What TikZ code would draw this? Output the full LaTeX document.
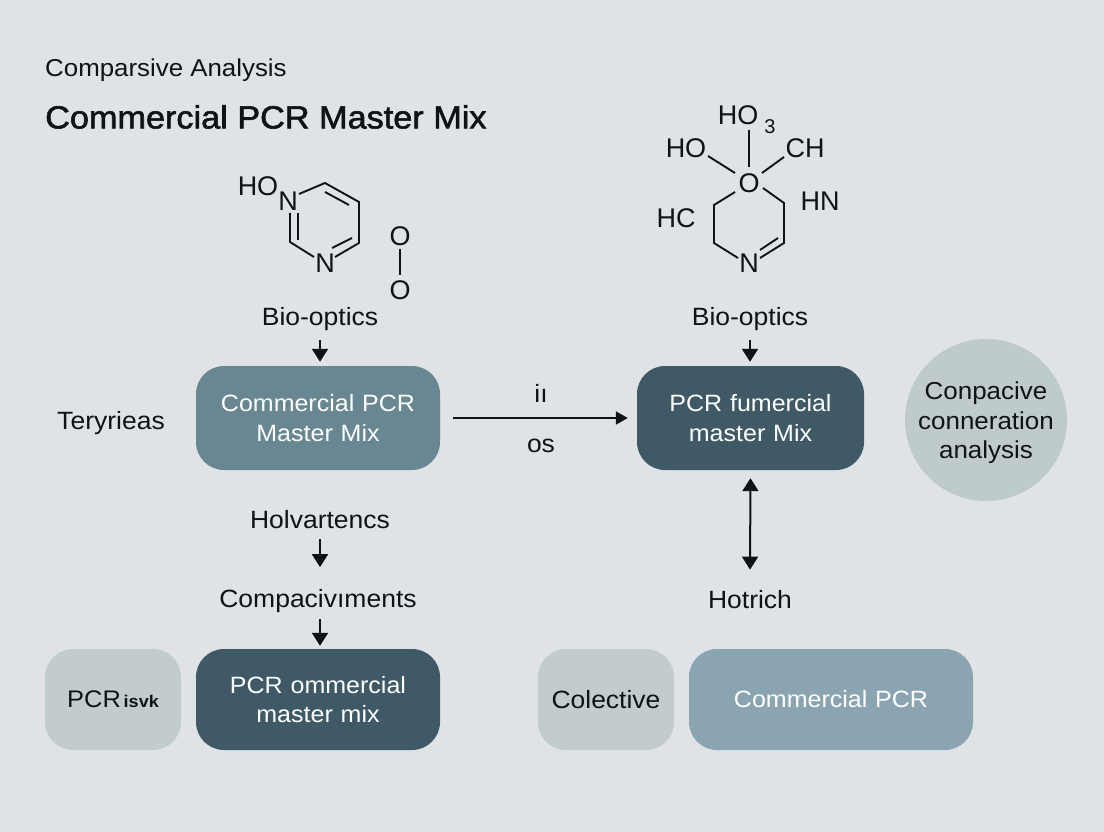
\documentclass[tikz,border=0pt]{standalone}
\usepackage{fontspec}
\setmainfont[FakeStretch=1.06]{Liberation Sans}
\newfontfamily\atomf{Liberation Sans}
\newfontfamily\ttlf[FakeBold=1.8,FakeStretch=1.07]{Liberation Sans}
\usetikzlibrary{arrows.meta}
\definecolor{bgc}{HTML}{DFE3E5}
\definecolor{ink}{HTML}{101316}
\definecolor{darkbox}{HTML}{3F5A66}
\definecolor{midbox}{HTML}{688792}
\definecolor{lightbox}{HTML}{8BA4B1}
\definecolor{palebox}{HTML}{C2CCCF}
\definecolor{circ}{HTML}{BFCACD}
\tikzset{
  x=1pt,y=-1pt,
  lbl/.style={font=\fontsize{25}{28}\selectfont,text=ink,inner sep=0pt,align=center},
  boxtxt/.style={font=\fontsize{23.6}{29.5}\selectfont,align=center,inner sep=0pt},
  circtxt/.style={font=\fontsize{24.5}{29.5}\selectfont,align=center,inner sep=0pt},
  atom/.style={font=\atomf\fontsize{27}{30}\selectfont,text=ink,inner sep=0pt},
  bond/.style={draw=ink,line width=1.9pt},
  arr/.style={draw=ink,line width=2pt,-{Triangle[length=13pt,width=16pt]}},
  arrm/.style={draw=ink,line width=2pt,-{Triangle[length=12pt,width=13pt]}},
  arrb/.style={draw=ink,line width=2pt,{Triangle[length=13pt,width=16pt]}-{Triangle[length=13pt,width=16pt]}},
  rbox/.style={rounded corners=28pt,inner sep=0pt},
}
\begin{document}
\begin{tikzpicture}
\useasboundingbox (0,0) rectangle (1104,832);
\fill[bgc] (0,0) rectangle (1104,832);
% titles
\node[lbl,anchor=west,font=\fontsize{24.4}{28}\selectfont] (sub) at (45,70) {Comparsive Analysis};
\node[lbl,anchor=west,font=\ttlf\fontsize{32}{36}\selectfont] (ttl) at (45,117) {Commercial PCR Master Mix};
% boxes
\node[rbox,fill=midbox,text=white,boxtxt,minimum width=244pt,minimum height=104pt,text width=244pt] (b1) at (318,418) {Commercial PCR\\Master Mix};
\node[rbox,fill=darkbox,text=white,boxtxt,minimum width=227pt,minimum height=104pt,text width=227pt] (b2) at (750.5,418) {PCR fumercial\\master Mix};
\node[rbox,fill=darkbox,text=white,boxtxt,minimum width=244pt,minimum height=101pt,text width=244pt] (b3) at (318,699.5) {PCR ommercial\\master mix};
\node[rbox,fill=palebox,text=ink,lbl,minimum width=136pt,minimum height=101pt,text width=136pt] (b4) at (113,699.5) {\fontsize{24}{28}\selectfont PCR{\fontsize{17}{22}\selectfont\bfseries\,isvk}};
\node[rbox,fill=palebox,text=ink,lbl,minimum width=136pt,minimum height=101pt,text width=136pt] (b5) at (606,699.5) {Colective};
\node[rbox,fill=lightbox,text=white,boxtxt,minimum width=284pt,minimum height=101pt,text width=284pt] (b6) at (831,699.5) {Commercial PCR};
\node[circle,fill=circ,minimum size=162pt,inner sep=0pt] (c1) at (986,420) {};
\node[text=ink,circtxt] (c1t) at (986,423) {Conpacive\\conneration\\analysis};
% labels
\node[lbl] (bio1) at (320,319) {Bio-optics};
\node[lbl] (bio2) at (750,319) {Bio-optics};
\node[lbl] (ter) at (111,423) {Teryrieas};
\node[lbl] (hol) at (320,520) {Holvartencs};
\node[lbl] (cmp) at (318,601) {Compacivıments};
\node[lbl] (hot) at (750,600) {Hotrich};
\node[lbl] (ii) at (541,393) {iı};
\node[lbl] (os) at (541,446) {os};
% connectors
\coordinate (start) at (453,418);
\draw[arrm] (start) -- ([xshift=-9pt]b2.west);
\draw[arr] ([yshift=-9pt]bio1.south) -- ([yshift=4pt]bio1.south |- b1.north);
\draw[arr] ([yshift=-9pt]bio2.south) -- ([yshift=4pt]bio2.south |- b2.north);
\draw[arrb] ([yshift=-8pt]b2.south) -- ([yshift=21pt]hot.north);
\draw[arr] ([yshift=-10pt]hol.south) -- ([yshift=22pt]hol.south |- cmp.north);
\draw[arr] ([xshift=2pt,yshift=-6pt]cmp.south) -- ([xshift=2pt,yshift=3pt]cmp.south |- b3.north);
% molecule 1
\node[atom] (ho1) at (258,186) {HO};
\node[atom] (n1) at (288,201) {N};
\node[atom] (n2) at (325,263) {N};
\coordinate (a1) at (325,183);
\coordinate (a2) at (359,202);
\coordinate (a3) at (359,243);
\coordinate (a4) at (290,242);
\draw[bond] (299,194) -- (a1) -- (a2) -- (a3) -- (335,257);
\draw[bond] (325,192) -- (349,205);
\draw[bond] (332,248) -- (352,238);
\draw[bond] (290,213) -- (a4) -- (314,257);
\draw[bond] (298,213) -- (298,240);
\node[atom] (o1) at (400,236) {O};
\node[atom] (o2) at (400,290) {O};
\draw[bond] (o1) ++(0,13) -- (400,275);
% molecule 2
\node[atom] (o3) at (749,183) {O};
\node[atom] (ho3) at (738,115) {HO};
\node[font=\atomf\fontsize{20}{22}\selectfont,text=ink,inner sep=0pt] (s3) at (770,127) {3};
\node[atom] (ho4) at (686,148) {HO};
\node[atom] (ch) at (805,148) {CH};
\node[atom] (hc) at (676,218) {HC};
\node[atom] (hn) at (820,201) {HN};
\node[atom] (n3) at (749,263) {N};
\draw[bond] (749,130) -- (749,167);
\draw[bond] (708,156) -- (735,173);
\draw[bond] (784,157) -- (762,173);
\draw[bond] (735,192) -- (714,205) -- (714,243) -- (738,258);
\draw[bond] (763,188) -- (784,203) -- (784,243) -- (760,258);
\draw[bond] (760,250) -- (778,238);
\end{tikzpicture}
\end{document}
